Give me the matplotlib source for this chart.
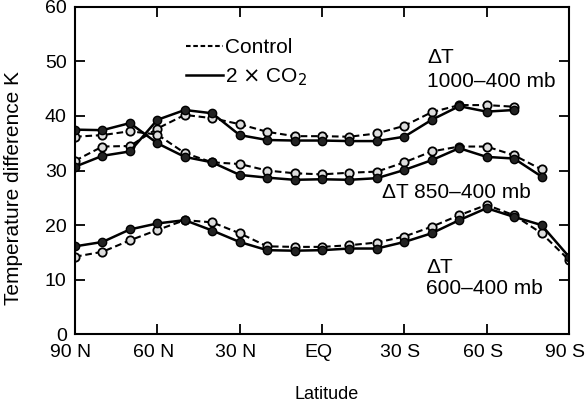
import numpy as np
import matplotlib.pyplot as plt
import matplotlib.transforms as mtransforms
from matplotlib.lines import Line2D

plt.rcParams['font.family'] = ['Liberation Sans', 'DejaVu Sans']

# latitude of each point, 90N (+90) to 90S (-90)
lat = np.arange(90, -91, -10)

# Delta T 1000-400 mb (90N .. 70S)
t1000_ctrl = [31.8, 34.4, 34.5, 37.7, 40.2, 39.6, 38.5, 37.1, 36.3, 36.3,
              36.2, 36.8, 38.2, 40.7, 42.0, 42.0, 41.7]
t1000_co2 = [30.7, 32.7, 33.5, 39.3, 41.1, 40.5, 36.5, 35.6, 35.5, 35.5,
             35.4, 35.4, 36.2, 39.3, 41.8, 40.8, 41.1]

# Delta T 850-400 mb (90N .. 80S)
t850_ctrl = [36.2, 36.5, 37.2, 36.6, 33.2, 31.5, 31.2, 30.0, 29.5, 29.3,
             29.6, 29.8, 31.5, 33.5, 34.4, 34.4, 32.8, 30.2]
t850_co2 = [37.5, 37.4, 38.7, 35.0, 32.5, 31.5, 29.2, 28.7, 28.3, 28.4,
            28.3, 28.6, 30.1, 31.9, 34.1, 32.5, 32.2, 28.9]

# Delta T 600-400 mb (90N .. 90S)
t600_ctrl = [14.2, 15.1, 17.2, 19.1, 20.9, 20.5, 18.5, 16.1, 16.0, 16.0,
             16.3, 16.8, 17.9, 19.7, 21.8, 23.7, 21.8, 18.5, 13.6]
t600_co2 = [16.1, 16.9, 19.2, 20.3, 20.9, 19.0, 16.9, 15.4, 15.3, 15.4,
            15.7, 15.7, 16.9, 18.5, 20.9, 23.1, 21.5, 20.0, 14.2]

xticks = [90, 60, 30, 0, -30, -60, -90]
xticklabels = ['90 N', '60 N', '30 N', 'EQ', '30 S', '60 S', '90 S']

FS = 15
DASH = (0, (3.2, 1.8))

fig = plt.figure(figsize=(5.88, 4.07), dpi=100, facecolor='white')
ax = fig.add_axes([0.1276, 0.179, 0.840, 0.804])

ctrl_style = dict(color='black', linestyle=DASH, linewidth=1.5,
                  marker='o', markersize=6, markerfacecolor='#dddddd',
                  markeredgecolor='black', markeredgewidth=1.3)
co2_style = dict(color='black', linestyle='-', linewidth=1.8,
                 marker='o', markersize=6, markerfacecolor='#222222',
                 markeredgecolor='black')

for ctrl, co2 in [(t1000_ctrl, t1000_co2), (t850_ctrl, t850_co2), (t600_ctrl, t600_co2)]:
    ax.plot(lat[:len(ctrl)], ctrl, **ctrl_style)
    ax.plot(lat[:len(co2)], co2, **co2_style)

# legend: plain lines, no markers
handles = [
    Line2D([0], [0], color='black', linestyle=(0, (2.2, 1.3)), lw=1.5, label='Control'),
    Line2D([0], [0], color='black', lw=1.8, label='2 $\\times$ CO$_2$'),
]
ax.legend(handles=handles, loc='upper left', bbox_to_anchor=(0.19, 0.955),
          frameon=False, fontsize=FS, handlelength=1.8, handletextpad=0.1,
          labelspacing=0.45, borderpad=0.3)

ax.text(-38.3, 50.8, '\u0394T', fontsize=FS, ha='left', va='center')
ax.text(-38.3, 46.4, '1000\u2013400 mb', fontsize=FS, ha='left', va='center')
ax.text(-21.9, 25.9, '\u0394T 850\u2013400 mb', fontsize=FS, ha='left', va='center')
ax.text(-37.9, 12.2, '\u0394T', fontsize=FS, ha='left', va='center')
ax.text(-37.9, 8.4, '600\u2013400 mb', fontsize=FS, ha='left', va='center')

ax.set_xlim(90, -90)
ax.set_ylim(0, 60)
ax.set_xticks(xticks)
ax.set_xticklabels(xticklabels)
ax.set_yticks([0, 10, 20, 30, 40, 50, 60])
ax.tick_params(direction='in', length=7.5, width=1.3, top=True, right=True,
               labelsize=14)
ax.tick_params(axis='x', pad=7)
ax.tick_params(axis='y', pad=6)

# tick labels in the original sit a few pixels left of their ticks
shift = mtransforms.ScaledTranslation(-4 / 100, 0, fig.dpi_scale_trans)
for lbl in ax.get_xticklabels():
    lbl.set_transform(lbl.get_transform() + shift)

ax.set_xlabel('Latitude', fontsize=13)
ax.set_ylabel('Temperature difference K', fontsize=FS)
ax.xaxis.set_label_coords(0.51, -0.158)
ax.yaxis.set_label_coords(-0.105, 0.446)
for s in ax.spines.values():
    s.set_linewidth(1.5)

fig.savefig('out.png', dpi=100)
